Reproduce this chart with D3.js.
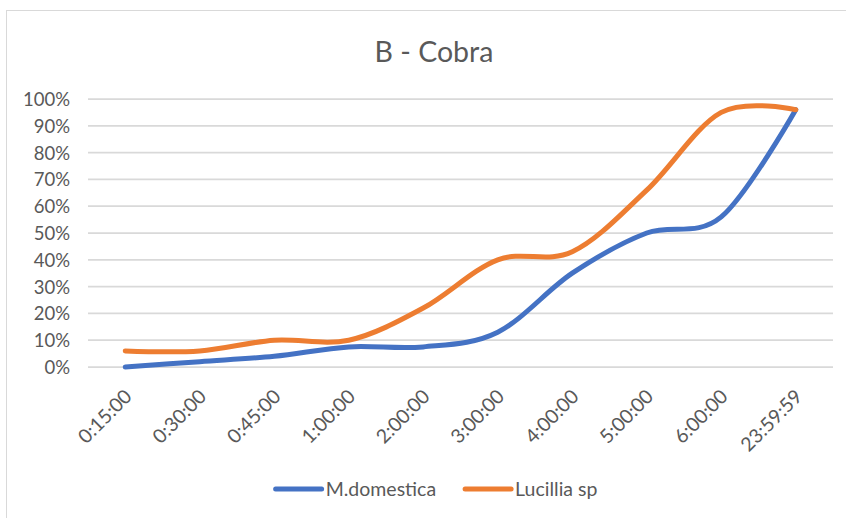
<!DOCTYPE html>
<html>
<head>
<meta charset="utf-8">
<script src="https://cdn.jsdelivr.net/npm/d3@7"></script>
<style>
  body { margin: 0; background: #fff; }
  text { font-family: Lato, "Open Sans", sans-serif; fill: #595959; }
</style>
</head>
<body>
<div id="canvas" class="canvas"></div>
<script>
// data
var categories = ['0:15:00','0:30:00','0:45:00','1:00:00','2:00:00','3:00:00','4:00:00','5:00:00','6:00:00','23:59:59'];
var domestica = [0, 0.02, 0.04, 0.075, 0.075, 0.13, 0.35, 0.50, 0.56, 0.96];
var lucillia  = [0.06, 0.06, 0.10, 0.10, 0.22, 0.40, 0.43, 0.66, 0.95, 0.96];
var seriesNames = ['M.domestica', 'Lucillia sp'];
var yTicks = [0, 0.1, 0.2, 0.3, 0.4, 0.5, 0.6, 0.7, 0.8, 0.9, 1];
var title = 'B - Cobra';

var W = 846, H = 518;
var m = {t:99, r:13, b:151, l:88},
    w = W - m.l - m.r,
    h = H - m.t - m.b;
var colors = ['#4472C4', '#ED7D31'];

var svg = d3.select('.canvas')
    .append('svg')
    .attr('width', W)
    .attr('height', H);

// chart border (right/bottom edges run off the crop)
svg.append('rect')
    .attr('x', 6.5).attr('y', 10.5)
    .attr('width', W + 20).attr('height', H + 20)
    .style('fill', '#fff')
    .style('stroke', '#d9d9d9')
    .style('stroke-width', 1);

svg.append('text')
    .attr('x', 434).attr('y', 62)
    .attr('text-anchor', 'middle')
    .style('font-size', '28.5px')
    .text(title);

var plot = svg.append('g').attr('class','plot')
    .attr('transform','translate('+ m.l+','+ m.t+')');

var x = d3.scaleBand().domain(categories).range([0, w]);
var y = d3.scaleLinear().domain([0, 1]).range([h, 0]);

//gridlines
plot.selectAll('.grid')
    .data(yTicks)
    .enter()
    .append('line').attr('class','grid')
    .attr('x1', 0).attr('x2', w)
    .attr('y1', function(d){return y(d)})
    .attr('y2', function(d){return y(d)})
    .style('stroke', '#d9d9d9')
    .style('stroke-width', '1.75px');

//y axis labels
var yAxis = d3.axisLeft(y).tickValues(yTicks).tickFormat(d3.format('.0%')).tickSize(0).tickPadding(18);
var gy = plot.append('g').call(yAxis);
gy.select('.domain').remove();
gy.selectAll('text').style('font-size', '18.5px').attr('dy', '0.35em');

//x axis labels, rotated
var xAxis = d3.axisBottom(x).tickSize(0);
var gx = plot.append('g').attr('transform','translate(0,'+ h +')').call(xAxis);
gx.select('.domain').remove();
gx.selectAll('text')
    .style('font-size', '19.5px')
    .attr('text-anchor', 'end')
    .attr('y', 0).attr('dy', '0.35em')
    .attr('transform', 'translate(3,26) rotate(-45)');

//lines
var line = d3.line()
    .x(function(d, i){return x(categories[i]) + x.bandwidth()/2})
    .y(function(d){return y(d)})
    .curve(d3.curveCatmullRom.alpha(0));

plot.selectAll('.series')
    .data([domestica, lucillia])
    .enter()
    .append('path').attr('class','series')
    .attr('d', line)
    .style('fill', 'none')
    .style('stroke', function(d, i){return colors[i]})
    .style('stroke-width', '5px')
    .style('stroke-linecap', 'round')
    .style('stroke-linejoin', 'round');

//legend
var legend = svg.append('g').attr('class','legend');
var lx = 0;
seriesNames.forEach(function(name, i){
    var item = legend.append('g').attr('transform','translate('+ lx +',0)');
    item.append('line')
        .attr('x1', 2).attr('x2', 48)
        .style('stroke', colors[i])
        .style('stroke-width', '5px')
        .style('stroke-linecap', 'round');
    var t = item.append('text')
        .attr('x', 52).attr('dy', '0.35em')
        .style('font-size', '19.5px')
        .text(name);
    lx += 52 + t.node().getComputedTextLength() + 27;
});
var legendW = lx - 27;
legend.attr('transform', 'translate('+ (435.5 - legendW/2) +',489)');
</script>
</body>
</html>
